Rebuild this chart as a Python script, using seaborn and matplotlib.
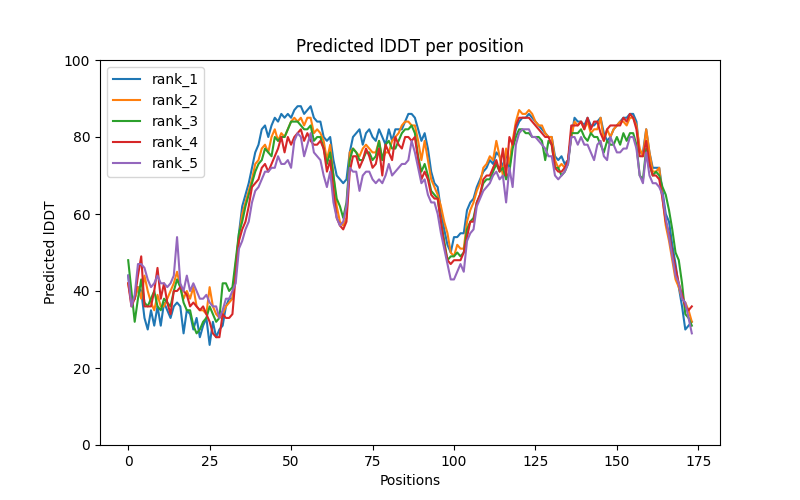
import pandas as pd
import numpy as np
import seaborn as sns
import matplotlib
matplotlib.use("Agg")
import matplotlib.pyplot as plt

#data
rank_1 = [44, 37, 38, 41, 40, 33, 30, 35, 31, 36,
          31, 37, 35, 33, 36, 37, 36, 29, 35, 34,
          30, 33, 28, 31, 33, 26, 32, 28, 30, 31,
          36, 38, 38, 45, 55, 62, 65, 68, 72, 76,
          78, 82, 83, 80, 83, 85, 84, 86, 85, 86,
          85, 87, 88, 88, 86, 87, 88, 85, 84, 84,
          80, 79, 80, 74, 70, 69, 68, 69, 76, 80,
          81, 82, 78, 81, 82, 80, 79, 82, 80, 78,
          82, 79, 82, 82, 82, 84, 86, 86, 85, 82,
          79, 81, 77, 71, 68, 67, 61, 56, 52, 50,
          54, 54, 55, 55, 61, 63, 64, 67, 69, 71,
          72, 74, 73, 76, 75, 72, 76, 72, 78, 82,
          84, 85, 85, 86, 85, 84, 83, 82, 81, 80,
          80, 75, 74, 75, 73, 74, 80, 85, 84, 84,
          83, 85, 83, 83, 84, 85, 81, 79, 80, 82,
          83, 84, 85, 85, 86, 86, 84, 76, 76, 82,
          76, 72, 72, 72, 66, 60, 58, 52, 47, 41,
          36, 30, 31, 32]
rank_2 = [42, 37, 38, 41, 38, 44, 40, 37, 35, 39,
          36, 36, 38, 40, 42, 45, 41, 38, 40, 38,
          41, 36, 35, 35, 34, 41, 36, 34, 33, 34,
          36, 37, 38, 47, 54, 60, 63, 66, 69, 73,
          74, 77, 78, 76, 80, 82, 79, 81, 80, 82,
          84, 85, 84, 85, 83, 85, 85, 81, 82, 81,
          79, 74, 78, 70, 62, 58, 57, 59, 76, 77,
          76, 75, 77, 78, 77, 76, 76, 79, 74, 76,
          76, 79, 80, 81, 83, 84, 84, 83, 83, 79,
          74, 79, 74, 69, 67, 65, 62, 58, 55, 50,
          49, 52, 51, 51, 58, 61, 63, 66, 68, 72,
          73, 75, 74, 79, 75, 70, 77, 73, 79, 84,
          87, 86, 86, 87, 86, 84, 83, 83, 81, 80,
          80, 74, 72, 73, 72, 74, 80, 84, 83, 84,
          82, 84, 81, 82, 82, 85, 79, 82, 80, 82,
          83, 84, 84, 83, 85, 85, 83, 77, 75, 82,
          76, 71, 71, 72, 64, 57, 53, 48, 43, 41,
          38, 37, 35, 32]
rank_3 = [48, 40, 32, 38, 43, 37, 36, 38, 40, 36,
          35, 38, 37, 36, 40, 43, 41, 37, 35, 35,
          31, 29, 30, 32, 33, 36, 34, 32, 33, 42,
          42, 40, 41, 48, 55, 58, 62, 65, 68, 71,
          73, 74, 77, 76, 75, 80, 79, 80, 80, 82,
          84, 84, 84, 83, 82, 82, 83, 79, 80, 80,
          77, 73, 76, 70, 64, 62, 59, 63, 74, 77,
          76, 74, 74, 76, 76, 74, 75, 79, 74, 78,
          79, 77, 77, 79, 81, 82, 82, 83, 81, 75,
          71, 73, 70, 66, 65, 64, 58, 53, 48, 49,
          49, 50, 49, 50, 56, 58, 59, 63, 65, 68,
          69, 69, 71, 73, 71, 72, 69, 71, 77, 80,
          82, 82, 81, 81, 80, 80, 80, 79, 74, 79,
          78, 72, 72, 70, 71, 73, 81, 81, 81, 82,
          80, 79, 81, 80, 80, 78, 76, 79, 78, 78,
          80, 78, 81, 79, 81, 81, 78, 70, 69, 77,
          73, 70, 71, 70, 67, 65, 61, 56, 50, 48,
          42, 34, 33, 31]
rank_4 = [42, 36, 38, 44, 49, 36, 36, 36, 40, 46,
          38, 42, 37, 34, 40, 40, 41, 40, 39, 36,
          37, 36, 35, 36, 34, 32, 29, 28, 28, 34,
          33, 33, 34, 44, 53, 56, 58, 62, 67, 68,
          69, 72, 73, 71, 73, 75, 77, 80, 76, 80,
          78, 80, 81, 82, 79, 81, 79, 78, 78, 79,
          77, 71, 74, 66, 59, 57, 56, 58, 71, 75,
          75, 72, 74, 77, 75, 72, 73, 77, 70, 78,
          76, 74, 80, 78, 77, 80, 80, 79, 80, 74,
          69, 71, 69, 65, 64, 64, 58, 52, 48, 47,
          48, 48, 48, 50, 54, 58, 58, 63, 65, 69,
          70, 70, 72, 74, 71, 77, 70, 80, 78, 83,
          85, 85, 85, 85, 84, 83, 82, 81, 80, 80,
          78, 72, 71, 71, 72, 74, 83, 83, 83, 84,
          82, 85, 82, 84, 84, 81, 79, 82, 83, 83,
          83, 83, 85, 84, 86, 85, 82, 75, 75, 79,
          73, 70, 70, 69, 64, 58, 55, 50, 46, 42,
          39, 36, 35, 36]
rank_5 = [44, 36, 39, 47, 47, 46, 43, 41, 42, 44,
          42, 42, 41, 42, 44, 54, 42, 40, 44, 40,
          42, 40, 38, 38, 39, 37, 36, 36, 33, 35,
          38, 38, 40, 42, 51, 53, 56, 58, 63, 66,
          67, 69, 71, 71, 72, 72, 75, 73, 73, 74,
          72, 79, 81, 80, 75, 78, 81, 76, 75, 74,
          70, 67, 71, 63, 59, 57, 58, 62, 72, 71,
          71, 66, 70, 71, 71, 69, 68, 69, 68, 70,
          73, 70, 71, 72, 73, 73, 74, 79, 76, 72,
          68, 69, 65, 63, 63, 60, 55, 51, 47, 43,
          43, 45, 47, 45, 53, 55, 56, 62, 64, 66,
          67, 68, 70, 71, 69, 70, 63, 72, 67, 78,
          81, 82, 82, 82, 80, 80, 79, 78, 77, 75,
          75, 70, 69, 70, 71, 73, 80, 80, 78, 80,
          78, 78, 76, 74, 78, 79, 75, 74, 80, 78,
          76, 76, 77, 77, 80, 80, 77, 70, 68, 76,
          70, 68, 68, 67, 65, 59, 54, 49, 44, 42,
          38, 37, 33, 29]
names = ["rank_1", "rank_2", "rank_3", "rank_4", "rank_5"]

#long format for seaborn
frames = []
for name, vals in zip(names, [rank_1, rank_2, rank_3, rank_4, rank_5]):
    frames.append(pd.DataFrame({"pos": np.arange(len(vals)), "plddt": vals, "rank": name}))
data = pd.concat(frames)

fig, ax = plt.subplots(figsize=(8, 5), dpi=100)
sns.lineplot(data=data, x="pos", y="plddt", hue="rank",
             palette=sns.color_palette("tab10", 5), ax=ax)

ax.set_title("Predicted lDDT per position")
ax.set_xlabel("Positions")
ax.set_ylabel("Predicted lDDT")
ax.set_ylim(0, 100)
handles, labels = ax.get_legend_handles_labels()
ax.legend(handles, labels, loc="upper left")

plt.savefig("out.png", dpi=100)
